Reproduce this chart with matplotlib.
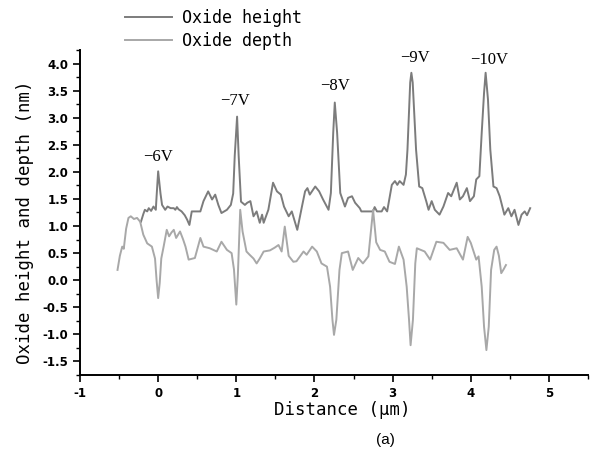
import matplotlib
matplotlib.use('Agg')
import matplotlib.pyplot as plt
from matplotlib.ticker import MultipleLocator, FormatStrFormatter

plt.rcParams['axes.unicode_minus'] = False

# oxide height profile (nm) vs distance (um)
height_x = [-0.22, -0.19, -0.17, -0.14, -0.12, -0.09, -0.06, -0.03, -0.02, 0.00,
            0.03, 0.05, 0.09, 0.12, 0.16, 0.20, 0.22, 0.24, 0.26, 0.30,
            0.34, 0.37, 0.40, 0.43, 0.54, 0.58, 0.64, 0.69, 0.73, 0.77,
            0.81, 0.88, 0.93, 0.96, 0.98, 1.01, 1.03, 1.06, 1.11, 1.14,
            1.18, 1.22, 1.26, 1.30, 1.33, 1.35, 1.41, 1.47, 1.52, 1.57,
            1.61, 1.67, 1.71, 1.78, 1.84, 1.88, 1.91, 1.94, 2.01, 2.06,
            2.11, 2.18, 2.21, 2.24, 2.26, 2.29, 2.33, 2.39, 2.43,
            2.48, 2.52, 2.58, 2.60, 2.75, 2.77, 2.80, 2.86, 2.89, 2.93,
            2.99, 3.03, 3.06, 3.09, 3.14, 3.17, 3.19, 3.225, 3.24, 3.257,
            3.30, 3.34, 3.38, 3.43, 3.46, 3.50, 3.54, 3.60, 3.65, 3.71,
            3.75, 3.82, 3.86, 3.90, 3.95, 3.99, 4.04, 4.07, 4.11, 4.14,
            4.17, 4.19, 4.22, 4.25, 4.29, 4.33, 4.37, 4.43, 4.48, 4.52,
            4.56, 4.61, 4.65, 4.69, 4.72, 4.76]
height_y = [1.08, 1.22, 1.30, 1.27, 1.33, 1.28, 1.36, 1.30, 1.55, 2.01,
            1.60, 1.39, 1.30, 1.36, 1.33, 1.33, 1.30, 1.35, 1.31, 1.27,
            1.20, 1.12, 1.02, 1.27, 1.27, 1.46, 1.64, 1.49, 1.58, 1.39,
            1.24, 1.30, 1.39, 1.60, 2.30, 3.02, 2.30, 1.45, 1.39, 1.43,
            1.46, 1.18, 1.27, 1.06, 1.21, 1.06, 1.30, 1.80, 1.64, 1.58,
            1.36, 1.18, 1.27, 0.93, 1.36, 1.64, 1.70, 1.58, 1.73, 1.64,
            1.49, 1.30, 1.61, 2.72, 3.28, 2.72, 1.61, 1.36, 1.52,
            1.55, 1.43, 1.33, 1.27, 1.27, 1.35, 1.27, 1.27, 1.35, 1.27,
            1.76, 1.83, 1.76, 1.83, 1.76, 1.95, 2.41, 3.65, 3.83, 3.65,
            2.41, 1.73, 1.70, 1.46, 1.30, 1.46, 1.30, 1.21, 1.36, 1.61,
            1.55, 1.80, 1.49, 1.55, 1.70, 1.46, 1.55, 1.86, 1.92, 2.72,
            3.46, 3.83, 3.34, 2.41, 1.73, 1.70, 1.55, 1.21, 1.33, 1.18,
            1.30, 1.02, 1.21, 1.27, 1.20, 1.33]

# oxide depth profile (nm) vs distance (um)
depth_x = [-0.52, -0.49, -0.46, -0.44, -0.41, -0.38, -0.35, -0.31, -0.27, -0.23,
           -0.19, -0.14, -0.08, -0.04, -0.02, 0.00, 0.02, 0.04, 0.07, 0.11,
           0.14, 0.17, 0.20, 0.23, 0.28, 0.32, 0.35, 0.39, 0.47, 0.54,
           0.58, 0.66, 0.75, 0.81, 0.88, 0.94, 0.97, 1.00, 1.02, 1.05,
           1.08, 1.13, 1.17, 1.22, 1.26, 1.30, 1.35, 1.43, 1.49, 1.54,
           1.58, 1.62, 1.67, 1.73, 1.77, 1.86, 1.90, 1.97, 2.03, 2.09,
           2.16, 2.20, 2.23, 2.25, 2.28, 2.32, 2.35, 2.43, 2.49, 2.56,
           2.62, 2.69, 2.72, 2.75, 2.79, 2.84, 2.90, 2.96, 3.03, 3.08,
           3.14, 3.18, 3.21, 3.23, 3.26, 3.29, 3.31, 3.41, 3.48, 3.56,
           3.65, 3.73, 3.82, 3.90, 3.96, 4.00, 4.07, 4.10, 4.14, 4.17,
           4.20, 4.23, 4.26, 4.30, 4.33, 4.36, 4.39, 4.42, 4.45]
depth_y = [0.19, 0.45, 0.62, 0.58, 0.95, 1.15, 1.18, 1.13, 1.15, 1.08,
           0.84, 0.68, 0.62, 0.40, 0.00, -0.33, -0.05, 0.40, 0.62, 0.93,
           0.81, 0.88, 0.93, 0.78, 0.90, 0.75, 0.62, 0.38, 0.41, 0.78,
           0.62, 0.59, 0.53, 0.71, 0.56, 0.50, 0.20, -0.45, 0.10, 1.30,
           0.90, 0.53, 0.47, 0.40, 0.31, 0.40, 0.53, 0.55, 0.60, 0.65,
           0.53, 0.99, 0.45, 0.34, 0.35, 0.53, 0.47, 0.62, 0.53, 0.31,
           0.25, -0.12, -0.73, -1.01, -0.73, 0.19, 0.50, 0.53, 0.19, 0.41,
           0.31, 0.44, 0.87, 1.30, 0.70, 0.56, 0.53, 0.34, 0.30, 0.62,
           0.38, -0.12, -0.73, -1.20, -0.73, 0.31, 0.59, 0.53, 0.38, 0.71,
           0.69, 0.56, 0.59, 0.38, 0.80, 0.69, 0.38, 0.44, -0.12, -0.86,
           -1.29, -0.86, 0.19, 0.56, 0.62, 0.45, 0.13, 0.20, 0.28]

# voltage labels above the peaks
volt_labels = ['\u22126V', '\u22127V', '\u22128V', '\u22129V', '\u221210V']
volt_x = [0.00, 0.98, 2.26, 3.29, 4.24]
volt_y = [2.28, 3.31, 3.58, 4.11, 4.06]

fig = plt.figure(figsize=(5.9, 4.58), dpi=100)
ax = fig.add_axes([80/590., 1 - 375/458., 508/590., 325/458.])

l1, = ax.plot(height_x, height_y, color='#7c7c7c', lw=1.4)
l2, = ax.plot(depth_x, depth_y, color='#a8a8a8', lw=1.4)

for lab, x, y in zip(volt_labels, volt_x, volt_y):
    ax.text(x, y, lab, ha='center', va='center', fontsize=12,
            family='Liberation Serif')

ax.set_xlim(-1, 5.5)
ax.set_ylim(-1.75, 4.25)
ax.xaxis.set_major_locator(MultipleLocator(1))
ax.xaxis.set_minor_locator(MultipleLocator(0.5))
ax.yaxis.set_major_locator(MultipleLocator(0.5))
ax.yaxis.set_minor_locator(MultipleLocator(0.25))
ax.yaxis.set_major_formatter(FormatStrFormatter('%.1f'))
ax.xaxis.set_major_formatter(FormatStrFormatter('%d'))

for s in ['top', 'right']:
    ax.spines[s].set_visible(False)
for s in ['left', 'bottom']:
    ax.spines[s].set_linewidth(1.4)
ax.tick_params(which='major', direction='out', length=5, width=1.2)
ax.tick_params(which='minor', direction='out', length=3, width=1.0)
for t in ax.get_xticklabels() + ax.get_yticklabels():
    t.set_fontsize(8.5)
    t.set_fontweight('bold')
    t.set_family('DejaVu Sans')

ax.set_xlabel('Distance (\u03bcm)', fontsize=12.5, family='DejaVu Sans Mono', va='center')
ax.xaxis.set_label_coords((342 - 80) / 508., -(410 - 375) / 325.)
ax.set_ylabel('Oxide height and depth (nm)', fontsize=12.5, family='DejaVu Sans Mono', va='center')
ax.yaxis.set_label_coords((25 - 80) / 508., (375 - 222) / 325.)

fig.legend([l1, l2], ['Oxide height', 'Oxide depth'], loc='upper left',
           bbox_to_anchor=(125/590., 1 - 9/458.), frameon=False,
           prop={'family': 'DejaVu Sans Mono', 'size': 12},
           handlelength=2.8, handletextpad=0.6, labelspacing=0.3,
           borderpad=0, borderaxespad=0)

fig.text(385/590., 1 - 440/458., '(a)', ha='center', va='center', fontsize=11,
         family='Liberation Sans')

fig.savefig('out.png', dpi=100)
